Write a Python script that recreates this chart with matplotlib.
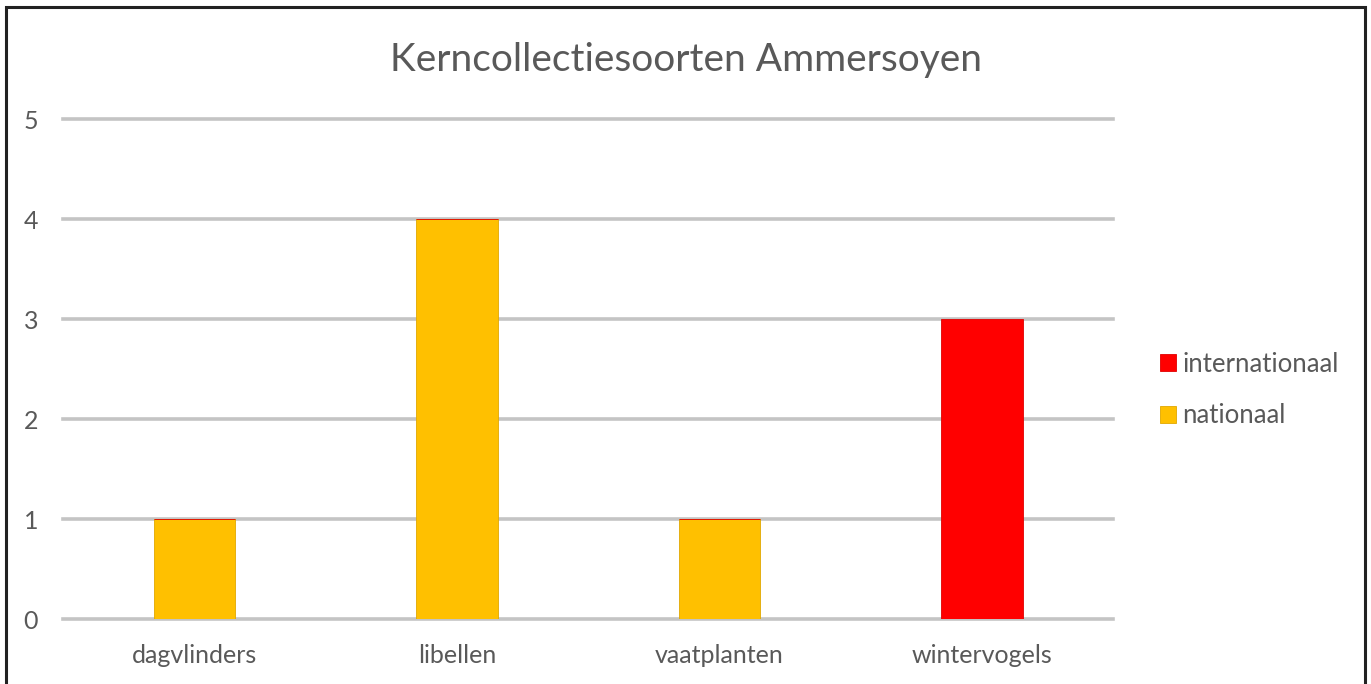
import matplotlib.pyplot as plt
from matplotlib.patches import Rectangle
import numpy as np

categories = ["dagvlinders", "libellen", "vaatplanten", "wintervogels"]
nationaal = [1, 4, 1, 0]
internationaal = [0, 0, 0, 3]
yticks = [0, 1, 2, 3, 4, 5]

plt.rcParams["font.family"] = ["Lato", "DejaVu Sans"]
text_color = "#595959"

fig = plt.figure(figsize=(13.71, 6.84), dpi=100)
ax = fig.add_axes([0.046, 0.095, 0.766, 0.731])

x = np.arange(len(categories))
ax.bar(x, nationaal, width=0.31, color="#FFC000", edgecolor="#E0A800",
       linewidth=0.6, label="nationaal", zorder=3)
ax.bar(x, internationaal, width=0.31, bottom=nationaal, color="#FF0000",
       edgecolor="#E00000", linewidth=0.6, label="internationaal", zorder=3)

ax.set_xlim(-0.5, len(categories) - 0.5)
ax.set_ylim(0, 5)
ax.set_yticks(yticks)
ax.set_xticks(x)
ax.set_xticklabels(categories)
ax.yaxis.grid(True, color="#c4c4c4", linewidth=2.6, zorder=0)
for gl in ax.get_ygridlines():
    gl.set_clip_on(False)
ax.set_axisbelow(True)
for s in ax.spines.values():
    s.set_visible(False)
ax.tick_params(axis="both", length=0, labelsize=18, colors=text_color)
ax.tick_params(axis="y", pad=18)
ax.tick_params(axis="x", pad=18)

fig.text(0.5, 1 - 60 / 684, "Kerncollectiesoorten Ammersoyen", fontsize=28,
         color=text_color, ha="center", va="center")

handles, labels = ax.get_legend_handles_labels()
fig.legend(handles[::-1], labels[::-1], loc="center left",
           bbox_to_anchor=(0.829, 1 - 390 / 684), frameon=False, fontsize=18.5,
           labelcolor=text_color, handlelength=0.62, handleheight=0.62,
           handletextpad=0.25, labelspacing=1.05)

fig.patches.append(Rectangle((6 / 1371, -0.05), 1359 / 1371, 1 - 7 / 684 + 0.05,
                             transform=fig.transFigure, fill=False,
                             edgecolor="#222222", linewidth=2.2))

fig.savefig("out.png", dpi=100)
